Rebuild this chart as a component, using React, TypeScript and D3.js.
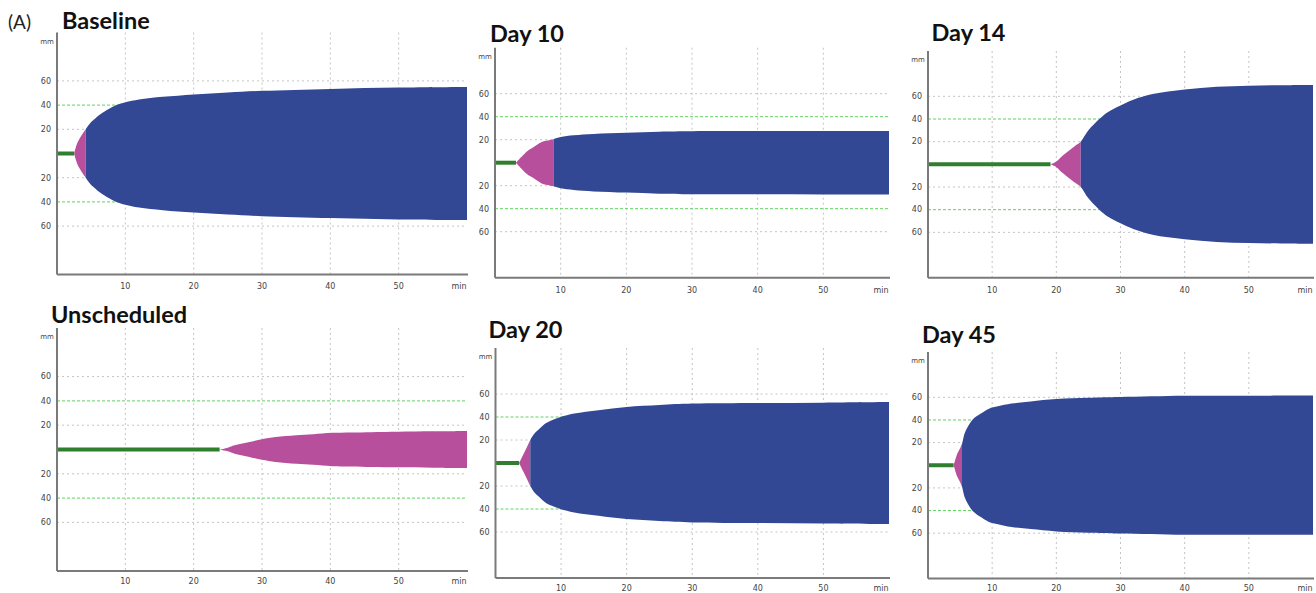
import React from 'react'
import * as d3 from 'd3'

// panel titles and the time (min) where each trace changes phase
const titles = ['Baseline', 'Day 10', 'Day 14', 'Unscheduled', 'Day 20', 'Day 45']
const clotTime = [2.5, 3.2, 19.1, 23.8, 3.6, 4.0]
const pinkEnd = [4.2, 8.9, 23.8, 60, 5.3, 5.3]

const xTicks = [10, 20, 30, 40, 50]
const yTicks = [60, 40, 20]

// [time min, amplitude mm]
const baselineTrace = [[2.5, 0], [3, 9], [3.6, 15], [4.2, 20], [5, 26], [5.3, 27.5], [6, 31], [6.5, 33], [7.5, 36.5], [8.7, 40], [10, 42.3], [12, 44.6], [15.5, 46.8], [20, 48.8], [25, 50.5], [30, 51.8], [40, 53.4], [50, 54.5], [60, 55]]
const day10Trace = [[3.2, 0], [4, 5], [5, 10.5], [5.6, 12.5], [6, 14], [7.1, 18], [8, 19.3], [8.9, 20.5], [10, 22.3], [12, 23.8], [15, 25], [20, 26], [25, 27], [30, 27.4], [40, 27.5], [50, 27.6], [60, 27.6]]
const day14Trace = [[19.1, 0], [20, 2.5], [20.8, 6.8], [21.5, 10], [22.4, 14], [23.1, 17], [23.8, 20], [25, 30], [26.7, 40], [28, 46], [30, 52], [32, 57], [35, 62], [40, 66], [45, 68.4], [50, 69.4], [55, 69.8], [60, 70]]
const unscheduledTrace = [[23.8, 0], [25, 1.5], [26, 3.5], [28, 6], [30, 8.5], [32, 10.3], [35, 11.8], [37.5, 12.6], [40.3, 13.7], [45.9, 14.3], [50, 14.6], [55, 15], [60, 15.3]]
const day20Trace = [[3.6, 0], [4.2, 7], [4.8, 14], [5.3, 20], [6, 26], [6.5, 28.6], [7.6, 34.3], [8.5, 37], [9.9, 40], [12, 43], [15.7, 45.9], [20, 48.8], [25, 50.5], [30, 51.7], [40, 52.2], [50, 52.5], [60, 53]]
const day45Trace = [[4, 0], [4.55, 10], [5, 15], [5.3, 19], [5.7, 28], [6.2, 34], [6.9, 40], [7.5, 43], [8.3, 46], [9.5, 50], [10.9, 52], [13, 54.5], [16, 56.3], [20, 58.4], [25, 59.5], [30, 60.2], [40, 61.3], [50, 61.4], [60, 61.5]]
const traces = [baselineTrace, day10Trace, day14Trace, unscheduledTrace, day20Trace, day45Trace]

// pixel frame of each panel: x range, y range (for -100..100 mm), title anchor
const layout = [
  { xr: [57, 467], yr: [274.5, 32.5], tx: 62, ty: 29.3 },
  { xr: [495, 889], yr: [277.7, 47.7], tx: 490, ty: 42.3 },
  { xr: [928, 1313], yr: [277.7, 51], tx: 931.5, ty: 40.7 },
  { xr: [57, 467], yr: [571, 328], tx: 51, ty: 323.3 },
  { xr: [495.5, 889], yr: [578, 348], tx: 488.5, ty: 337.7 },
  { xr: [928, 1313], yr: [578.5, 352], tx: 922, ty: 343.3 },
]

const BLUE = '#324894'
const PINK = '#b84f9c'
const GREEN = '#2f7f2f'
const GREEN_DASH = '#5fd35f'
const GRID = '#c4c4c4'
const AXIS = '#7a7a7a'
const TICK_FONT = '"DejaVu Sans", sans-serif'

const Panel = ({ i }: { i: number }) => {
  const L = layout[i]
  const x = d3.scaleLinear().domain([0, 60]).range(L.xr)
  const y = d3.scaleLinear().domain([-100, 100]).range(L.yr)
  const area = d3.area<number[]>()
    .x(d => x(d[0]))
    .y0(d => y(-d[1]))
    .y1(d => y(d[1]))
    .curve(d3.curveCatmullRom.alpha(0.5))
  const x0 = x(0)
  const x1 = x(60)
  const xs = x(pinkEnd[i])
  const labelOff = i >= 3 ? 10 : 12

  return (
    <g>
      <defs>
        <clipPath id={'pk' + i}><rect x={x0} y={y(100)} width={xs - x0} height={y(-100) - y(100)} /></clipPath>
        <clipPath id={'bl' + i}><rect x={xs} y={y(100)} width={Math.max(0, x1 - xs + 2)} height={y(-100) - y(100)} /></clipPath>
      </defs>
      <text x={L.tx} y={L.ty} fontFamily="Lato, sans-serif" fontWeight={700} fontSize={23.5} fill="#111">{titles[i]}</text>
      {/* vertical grid */}
      {xTicks.map(t => (
        <line key={'v' + t} x1={x(t)} x2={x(t)} y1={y(100)} y2={y(-100)} stroke={GRID} strokeWidth={1} strokeDasharray="2,3" />
      ))}
      {/* horizontal grid */}
      {yTicks.flatMap(t => [t, -t]).map(t => (
        <line key={'h' + t} x1={x0} x2={x1} y1={y(t)} y2={y(t)}
          stroke={Math.abs(t) === 40 ? GREEN_DASH : GRID}
          strokeWidth={1}
          strokeDasharray={Math.abs(t) === 40 ? '3,2' : '2,3'} />
      ))}
      {/* trace */}
      <line x1={x0} x2={x(clotTime[i])} y1={y(0)} y2={y(0)} stroke={GREEN} strokeWidth={4} />
      <path d={area(traces[i]) || ''} fill={PINK} clipPath={`url(#pk${i})`} />
      <path d={area(traces[i]) || ''} fill={BLUE} clipPath={`url(#bl${i})`} />
      {/* axes */}
      <line x1={x0} x2={x0} y1={y(100)} y2={y(-100)} stroke={AXIS} strokeWidth={2} />
      <line x1={x0} x2={x1 + 1} y1={y(-100)} y2={y(-100)} stroke={AXIS} strokeWidth={2} />
      {yTicks.flatMap(t => [t, -t]).map(t => (
        <text key={'yl' + t} x={x0 - 6} y={y(t)} dy="0.35em" textAnchor="end" fontFamily={TICK_FONT} fontSize={8} fill="#444">{Math.abs(t)}</text>
      ))}
      <text x={x0 - 10} y={y(100) + 9} dy="0.35em" textAnchor="middle" fontFamily={TICK_FONT} fontSize={7} fill="#444">mm</text>
      {xTicks.map(t => (
        <text key={'xl' + t} x={x(t)} y={y(-100) + labelOff} dy="0.35em" textAnchor="middle" fontFamily={TICK_FONT} fontSize={8} fill="#444">{t}</text>
      ))}
      <text x={x1 - 8} y={y(-100) + labelOff} dy="0.35em" textAnchor="middle" fontFamily={TICK_FONT} fontSize={8} fill="#444">min</text>
    </g>
  )
}

export default function App() {
  return (
    <svg width={1316} height={593} style={{ position: 'absolute', left: 0, top: 0, background: '#fff' }}>
      <rect width={1316} height={593} fill="#fff" />
      <text x={8} y={29} fontFamily="Lato, sans-serif" fontSize={19} fill="#222">(A)</text>
      {titles.map((_, i) => <Panel key={i} i={i} />)}
    </svg>
  )
}
